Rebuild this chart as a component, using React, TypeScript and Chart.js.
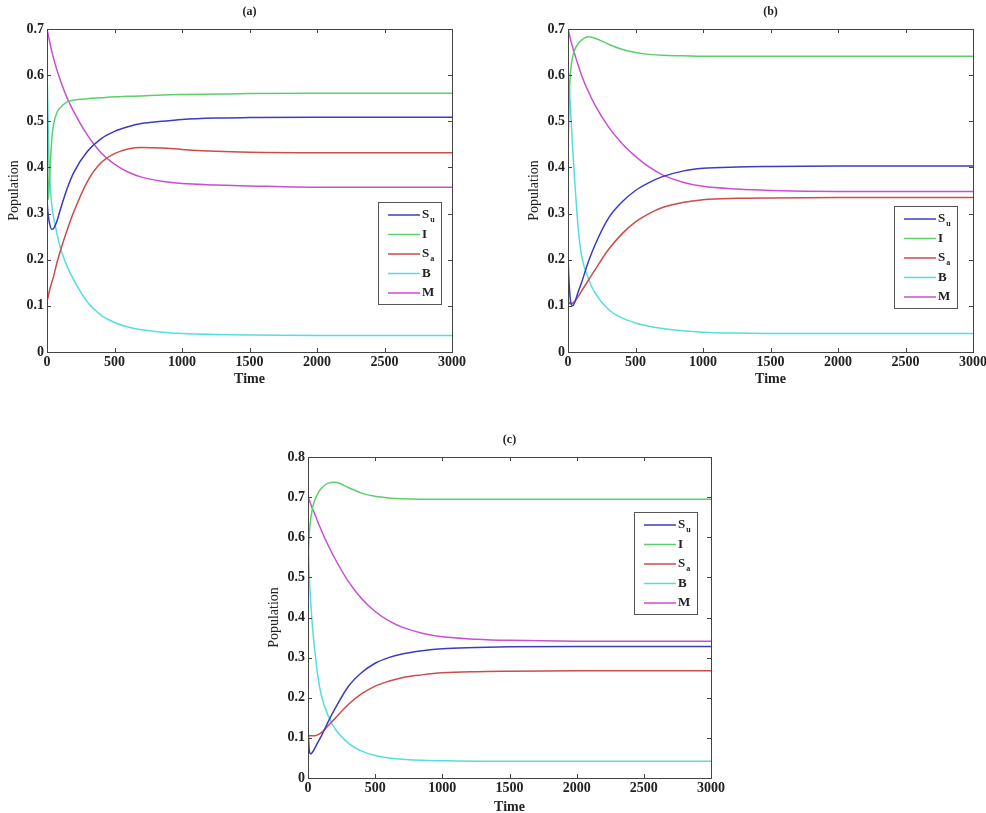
import React, { useEffect, useRef } from "react";
import { Chart, registerables } from "chart.js";
Chart.register(...registerables);

// Shared time grid (Time axis)
const T = [0, 5, 10, 20, 35, 50, 75, 100, 150, 200, 300, 400, 500, 600, 700, 850, 1000, 1250, 1500, 2000, 2500, 3000];

// Panel (a)
const aSu = [0.33, 0.31, 0.295, 0.277, 0.266, 0.268, 0.285, 0.31, 0.355, 0.39, 0.435, 0.462, 0.478, 0.488, 0.495, 0.5, 0.504, 0.507, 0.508, 0.509, 0.509, 0.509];
const aI = [0.62, 0.42, 0.33, 0.38, 0.46, 0.495, 0.52, 0.53, 0.542, 0.546, 0.549, 0.551, 0.553, 0.554, 0.555, 0.557, 0.558, 0.559, 0.56, 0.561, 0.561, 0.561];
const aSa = [0.11, 0.115, 0.122, 0.135, 0.15, 0.165, 0.195, 0.22, 0.265, 0.305, 0.37, 0.41, 0.43, 0.44, 0.443, 0.442, 0.439, 0.435, 0.433, 0.432, 0.432, 0.432];
const aB = [0.62, 0.55, 0.47, 0.38, 0.32, 0.29, 0.255, 0.225, 0.185, 0.155, 0.108, 0.08, 0.064, 0.054, 0.048, 0.043, 0.04, 0.038, 0.037, 0.036, 0.036, 0.036];
const aM = [0.7, 0.693, 0.686, 0.672, 0.652, 0.635, 0.61, 0.588, 0.55, 0.52, 0.47, 0.432, 0.407, 0.39, 0.379, 0.37, 0.365, 0.362, 0.36, 0.357, 0.357, 0.357];

// Panel (b)
const bSu = [0.21, 0.17, 0.14, 0.108, 0.1, 0.108, 0.13, 0.15, 0.195, 0.232, 0.29, 0.325, 0.35, 0.367, 0.38, 0.392, 0.398, 0.401, 0.402, 0.403, 0.403, 0.403];
const bI = [0.42, 0.5, 0.56, 0.61, 0.64, 0.655, 0.668, 0.676, 0.683, 0.68, 0.667, 0.656, 0.649, 0.645, 0.643, 0.642, 0.641, 0.641, 0.641, 0.641, 0.641, 0.641];
const bSa = [0.11, 0.108, 0.106, 0.105, 0.106, 0.11, 0.12, 0.132, 0.155, 0.178, 0.222, 0.256, 0.282, 0.3, 0.313, 0.324, 0.33, 0.333, 0.334, 0.335, 0.335, 0.335];
const bB = [0.62, 0.6, 0.57, 0.52, 0.44, 0.37, 0.27, 0.21, 0.16, 0.128, 0.092, 0.074, 0.063, 0.056, 0.051, 0.046, 0.043, 0.041, 0.04, 0.04, 0.04, 0.04];
const bM = [0.7, 0.695, 0.688, 0.676, 0.66, 0.645, 0.622, 0.6, 0.565, 0.535, 0.488, 0.452, 0.424, 0.401, 0.384, 0.368, 0.359, 0.353, 0.35, 0.348, 0.348, 0.348];

// Panel (c)
const cSu = [0.13, 0.09, 0.068, 0.06, 0.065, 0.074, 0.09, 0.105, 0.14, 0.172, 0.228, 0.263, 0.286, 0.3, 0.309, 0.317, 0.322, 0.325, 0.327, 0.328, 0.328, 0.328];
const cI = [0.55, 0.58, 0.61, 0.645, 0.675, 0.692, 0.71, 0.722, 0.735, 0.737, 0.724, 0.71, 0.702, 0.698, 0.696, 0.695, 0.695, 0.695, 0.695, 0.695, 0.695, 0.695];
const cSa = [0.105, 0.105, 0.105, 0.105, 0.105, 0.105, 0.108, 0.113, 0.13, 0.148, 0.183, 0.21, 0.229, 0.241, 0.25, 0.257, 0.262, 0.265, 0.266, 0.267, 0.267, 0.267];
const cB = [0.6, 0.55, 0.5, 0.44, 0.37, 0.32, 0.25, 0.205, 0.155, 0.123, 0.087, 0.067, 0.056, 0.05, 0.047, 0.044, 0.043, 0.042, 0.042, 0.042, 0.042, 0.042];
const cM = [0.7, 0.696, 0.692, 0.683, 0.67, 0.658, 0.637, 0.617, 0.58, 0.547, 0.49, 0.447, 0.415, 0.392, 0.376, 0.361, 0.352, 0.346, 0.343, 0.341, 0.341, 0.341];

const seriesMain = ["S", "I", "S", "B", "M"];
const seriesSub = ["u", "", "a", "", ""];
const seriesColors = ["#3b3bc4", "#5ccf6c", "#cc4b4b", "#55dede", "#c84fd0"];

const SERIF = "'Liberation Serif', 'DejaVu Serif', serif";

const panelPlugin = {
  id: "panelDeco",
  afterDraw(chart: any, _args: any, opts: any) {
    const ctx = chart.ctx;
    const ca = chart.chartArea;
    const xs = chart.scales.x;
    const ys = chart.scales.y;
    ctx.save();
    ctx.strokeStyle = "#444";
    ctx.lineWidth = 1;
    ctx.strokeRect(Math.round(ca.left) + 0.5, Math.round(ca.top) + 0.5, Math.round(ca.right - ca.left), Math.round(ca.bottom - ca.top));
    const tl = 4;
    ctx.beginPath();
    xs.ticks.forEach((t: any) => {
      const px = Math.round(xs.getPixelForValue(t.value)) + 0.5;
      ctx.moveTo(px, ca.bottom);
      ctx.lineTo(px, ca.bottom - tl);
      ctx.moveTo(px, ca.top);
      ctx.lineTo(px, ca.top + tl);
    });
    ys.ticks.forEach((t: any) => {
      const py = Math.round(ys.getPixelForValue(t.value)) + 0.5;
      ctx.moveTo(ca.left, py);
      ctx.lineTo(ca.left + tl, py);
      ctx.moveTo(ca.right, py);
      ctx.lineTo(ca.right - tl, py);
    });
    ctx.stroke();
    ctx.fillStyle = "#222";
    ctx.font = `bold 12px ${SERIF}`;
    ctx.textAlign = "center";
    ctx.textBaseline = "middle";
    ctx.fillText(opts.title, (ca.left + ca.right) / 2, ca.top - opts.titleGap);
    const w = 63, h = 102;
    const lx = ca.right - opts.legendRight - w;
    const ly = ca.top + opts.legendTop;
    ctx.fillStyle = "#fff";
    ctx.fillRect(lx, ly, w, h);
    ctx.strokeStyle = "#555";
    ctx.strokeRect(Math.round(lx) + 0.5, Math.round(ly) + 0.5, w, h);
    chart.data.datasets.forEach((ds: any, i: number) => {
      const yy = ly + 13 + i * 19.5;
      ctx.strokeStyle = ds.borderColor;
      ctx.lineWidth = 1.5;
      ctx.beginPath();
      ctx.moveTo(lx + 10, yy);
      ctx.lineTo(lx + 42, yy);
      ctx.stroke();
      ctx.fillStyle = "#222";
      ctx.textAlign = "left";
      ctx.textBaseline = "middle";
      ctx.font = `bold 13px ${SERIF}`;
      ctx.fillText(seriesMain[i], lx + 44, yy);
      if (seriesSub[i]) {
        const mw = ctx.measureText(seriesMain[i]).width;
        ctx.font = `bold 8px ${SERIF}`;
        ctx.fillText(seriesSub[i], lx + 45 + mw, yy + 5);
      }
    });
    ctx.restore();
  },
};

type PanelProps = {
  left: number;
  top: number;
  width: number;
  height: number;
  yMax: number;
  yAxisW: number;
  xAxisH: number;
  padTop: number;
  padRight: number;
  timePad: number;
  title: string;
  legendRight: number;
  legendTop: number;
  series: number[][];
};

function Panel(p: PanelProps) {
  const ref = useRef<HTMLCanvasElement | null>(null);
  useEffect(() => {
    if (!ref.current) return;
    const tickFont = { family: SERIF, size: 14, weight: "bold" as const };
    const chart = new Chart(ref.current, {
      type: "line",
      data: {
        datasets: p.series.map((vals, i) => ({
          label: seriesMain[i] + seriesSub[i],
          data: T.map((t, k) => ({ x: t, y: vals[k] })),
          borderColor: seriesColors[i],
          backgroundColor: seriesColors[i],
          borderWidth: 1.5,
          pointRadius: 0,
          cubicInterpolationMode: "monotone" as const,
          fill: false,
        })),
      },
      options: {
        animation: false,
        responsive: false,
        maintainAspectRatio: false,
        layout: { padding: { top: p.padTop, right: p.padRight, left: 0, bottom: 0 } },
        plugins: {
          legend: { display: false },
          tooltip: { enabled: false },
          // @ts-ignore
          panelDeco: { title: p.title, titleGap: 17, legendRight: p.legendRight, legendTop: p.legendTop },
        },
        scales: {
          x: {
            type: "linear",
            min: 0,
            max: 3000,
            ticks: {
              stepSize: 500,
              font: tickFont,
              color: "#222",
              padding: 2,
              maxRotation: 0,
              autoSkip: false,
              callback: (v: any) => String(Math.round(Number(v))),
            },
            grid: { display: false, drawTicks: false },
            border: { display: false },
            title: { display: true, text: "Time", font: { family: SERIF, size: 14, weight: "bold" }, color: "#222", padding: { top: 0, bottom: p.timePad } },
            afterFit: (s: any) => {
              s.height = p.xAxisH;
              s.paddingLeft = 0;
              s.paddingRight = 0;
            },
          },
          y: {
            type: "linear",
            min: 0,
            max: p.yMax,
            ticks: {
              stepSize: 0.1,
              font: tickFont,
              color: "#222",
              padding: 3,
              callback: (v: any) => String(Number(Number(v).toFixed(1))),
            },
            grid: { display: false, drawTicks: false },
            border: { display: false },
            title: { display: true, text: "Population", font: { family: SERIF, size: 14 }, color: "#222", padding: { top: 6, bottom: 0 } },
            afterFit: (s: any) => {
              s.width = p.yAxisW;
            },
          },
        },
      },
      plugins: [panelPlugin],
    });
    return () => chart.destroy();
  }, []);
  return (
    <canvas
      ref={ref}
      width={p.width}
      height={p.height}
      style={{ position: "absolute", left: p.left, top: p.top, width: p.width, height: p.height }}
    />
  );
}

export default function App() {
  return (
    <div style={{ position: "absolute", left: 0, top: 0, width: 986, height: 813, background: "#fff", fontFamily: SERIF }}>
      <Panel left={0} top={0} width={470} height={390} yMax={0.7} yAxisW={47} xAxisH={38} padTop={29} padRight={18} timePad={2}
        title="(a)" legendRight={11} legendTop={173} series={[aSu, aI, aSa, aB, aM]} />
      <Panel left={520} top={0} width={466} height={390} yMax={0.7} yAxisW={48} xAxisH={38} padTop={29} padRight={13} timePad={2}
        title="(b)" legendRight={16} legendTop={177} series={[bSu, bI, bSa, bB, bM]} />
      <Panel left={260} top={430} width={470} height={383} yMax={0.8} yAxisW={48} xAxisH={35} padTop={27} padRight={19} timePad={-3}
        title="(c)" legendRight={14} legendTop={55} series={[cSu, cI, cSa, cB, cM]} />
    </div>
  );
}
